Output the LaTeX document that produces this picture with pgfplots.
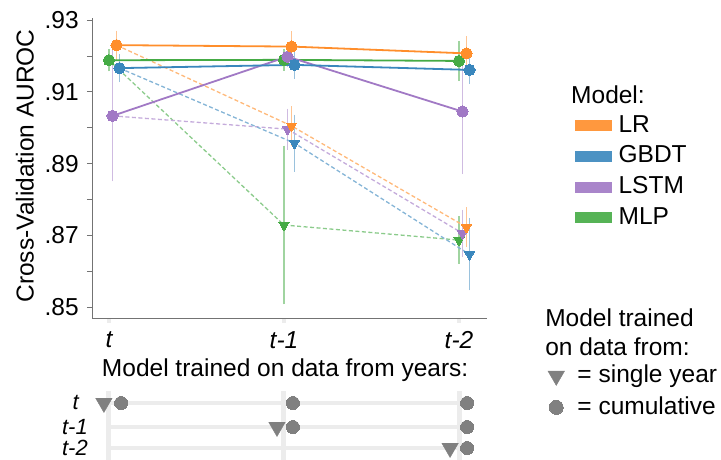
\documentclass[border=0pt]{standalone}
\usepackage{fontspec}
\setmainfont{Liberation Sans}
\usepackage{pgfplots}
\pgfplotsset{compat=1.18}
\definecolor{cO}{HTML}{FF7F0E}
\definecolor{cB}{HTML}{1F77B4}
\definecolor{cP}{HTML}{9467BD}
\definecolor{cG}{HTML}{2CA02C}
\definecolor{mk}{HTML}{808080}
\definecolor{gl}{HTML}{ECECEC}
\pgfplotsset{
  errs/.style={forget plot, draw=none, mark=none,
    error bars/.cd, y dir=both, y explicit,
    error bar style={draw=#1!45!white, line width=1.3pt, solid},
    error mark options={draw=#1!45!white, line width=1.3pt, mark size=2.2pt, solid}},
  single/.style={forget plot, draw=#1!55!white, line width=1.3pt, dash pattern=on 4pt off 2.5pt,
    mark=triangle*, mark indices={2,3}, mark size=5.8pt,
    mark options={solid, rotate=180, fill=#1!88!white, draw=#1!88!white, line width=0pt}},
  cumul/.style={forget plot, draw=#1!88!white, line width=1.8pt,
    mark=*, mark size=5.6pt, mark options={solid, fill=#1!88!white, draw=#1!88!white, line width=0pt}},
  gmark/.style={color=mk, mark options={fill=mk, draw=mk, line width=0pt}},
}
\begin{document}
\fontsize{24.5}{29}\selectfont
\begin{tikzpicture}
\useasboundingbox (0,0) rectangle (721pt,460pt);
\begin{axis}[
  at={(92pt,142pt)}, anchor=south west, scale only axis,
  width=395pt, height=300pt,
  xmin=-0.0971, xmax=2.16, ymin=0.847, ymax=0.93056,
  axis x line*=bottom, axis y line*=left,
  axis line style={draw=black!55, line width=0.9pt, -},
  xtick={0,1,2}, xticklabels={t,t-1,t-2},
  xticklabel style={font=\itshape},
  ytick={0.85,0.86,0.87,0.88,0.89,0.90,0.91,0.92,0.93},
  yticklabels={.85,,.87,,.89,,.91,,.93},
  tick align=outside, major tick length=5pt,
  xtick style={draw=gl, line width=4pt},
  ytick style={draw=black!55, line width=0.8pt},
  xlabel={Model trained on data from years:},
  ylabel={Cross-Validation AUROC},
  xlabel style={at={(axis description cs:0.489,-0.173)}, anchor=center},
  ylabel style={at={(axis description cs:-0.17,0.507)}, anchor=center},
  clip=false,
  legend style={draw=none, fill=none, at={(axis description cs:1.2228,0.68)}, anchor=north west,
    inner sep=0pt, row sep=8pt, column sep=6pt, nodes={inner sep=1pt}},
  legend cell align=left,
]
\addlegendimage{legend image code/.code={\fill[cO!80!white] (0pt,-5pt) rectangle (36pt,5pt);}}
\addlegendentry{LR}
\addlegendimage{legend image code/.code={\fill[cB!80!white] (0pt,-5pt) rectangle (36pt,5pt);}}
\addlegendentry{GBDT}
\addlegendimage{legend image code/.code={\fill[cP!80!white] (0pt,-5pt) rectangle (36pt,5pt);}}
\addlegendentry{LSTM}
\addlegendimage{legend image code/.code={\fill[cG!80!white] (0pt,-5pt) rectangle (36pt,5pt);}}
\addlegendentry{MLP}

% error bars: cumulative
\addplot[errs=cG] coordinates {(0,0.9188) +- (0,0.0025) (1,0.9189) +- (0,0.0024) (2,0.9186) +- (0,0.0050)};
\addplot[errs=cP] coordinates {(0.02,0.9033) +- (0,0.0176) (1.02,0.9198) +- (0,0.0024) (2.02,0.9045) +- (0,0.0168)};
\addplot[errs=cO] coordinates {(0.043,0.9230) +- (0,0.0034) (1.043,0.9226) +- (0,0.0037) (2.043,0.9207) +- (0,0.0042)};
\addplot[errs=cB] coordinates {(0.06,0.9166) +- (0,0.0033) (1.06,0.9175) +- (0,0.0033) (2.06,0.9161) +- (0,0.0033)};
% error bars: single year
\addplot[errs=cG] coordinates {(1,0.8729) +- (0,0.0215) (2,0.8687) +- (0,0.0060)};
\addplot[errs=cP] coordinates {(1.02,0.8996) +- (0,0.0051) (2.02,0.8706) +- (0,0.0060)};
\addplot[errs=cO] coordinates {(1.043,0.9005) +- (0,0.0049) (2.043,0.8723) +- (0,0.0049)};
\addplot[errs=cB] coordinates {(1.06,0.8957) +- (0,0.0073) (2.06,0.8647) +- (0,0.0094)};

% single year (dashed, triangles)
\addplot[single=cG] coordinates {(0,0.9188) (1,0.8729) (2,0.8687)};
\addplot[single=cP] coordinates {(0.02,0.9033) (1.02,0.8996) (2.02,0.8706)};
\addplot[single=cO] coordinates {(0.043,0.9230) (1.043,0.9005) (2.043,0.8723)};
\addplot[single=cB] coordinates {(0.06,0.9166) (1.06,0.8957) (2.06,0.8647)};

% cumulative (solid, circles)
\addplot[cumul=cG] coordinates {(0,0.9188) (1,0.9189) (2,0.9186)};
\addplot[cumul=cP] coordinates {(0.02,0.9033) (1.02,0.9198) (2.02,0.9045)};
\addplot[cumul=cO] coordinates {(0.043,0.9230) (1.043,0.9226) (2.043,0.9207)};
\addplot[cumul=cB] coordinates {(0.06,0.9166) (1.06,0.9175) (2.06,0.9161)};

\node[anchor=west, inner sep=0pt] at (axis description cs:1.2127,0.743) {Model:};
\node[anchor=west, inner sep=0pt] at (axis description cs:1.147,0.0) {Model trained};
\node[anchor=west, inner sep=0pt] at (axis description cs:1.147,-0.0967) {on data from:};
\end{axis}

\begin{axis}[
  at={(92pt,0pt)}, anchor=south west, scale only axis,
  width=395pt, height=70pt,
  xmin=-0.0971, xmax=2.16, ymin=0, ymax=70,
  axis line style={draw=none},
  xtick=\empty,
  ytick={12,33,57}, yticklabels={t-2,t-1,{t\rule{9pt}{0pt}}},
  yticklabel style={font=\fontsize{22}{24}\selectfont\itshape, inner sep=4pt},
  major tick length=0pt, ytick style={draw=none},
  clip=false,
  legend style={draw=none, fill=none, at={(axis description cs:1.154,1.371)}, anchor=north west,
    inner sep=0pt, row sep=8pt, column sep=12pt, nodes={inner sep=1pt}},
  legend cell align=left,
]
\addlegendimage{only marks, mark=triangle*, mark size=9.5pt, gmark, mark options={rotate=180}}
\addlegendentry{= single year}
\addlegendimage{only marks, mark=*, mark size=7pt, gmark}
\addlegendentry{= cumulative}
\addplot[forget plot, draw=gl, line width=5pt] coordinates {(0,0) (0,69)};
\addplot[forget plot, draw=gl, line width=5pt] coordinates {(1,0) (1,69)};
\addplot[forget plot, draw=gl, line width=5pt] coordinates {(2,0) (2,69)};
\addplot[forget plot, draw=gl, line width=4pt] coordinates {(0,57) (2,57)};
\addplot[forget plot, draw=gl, line width=4pt] coordinates {(0,33) (2,33)};
\addplot[forget plot, draw=gl, line width=4pt] coordinates {(0,12) (2,12)};
\addplot[forget plot, only marks, mark=triangle*, mark size=9.5pt, gmark, mark options={rotate=180}]
  coordinates {(-0.029,57) (0.96,33) (1.949,12)};
\addplot[forget plot, only marks, mark=*, mark size=6.5pt, gmark]
  coordinates {(0.069,57) (1.051,57) (2.046,57) (1.051,33) (2.046,33) (2.046,12)};
\end{axis}
\end{tikzpicture}
\end{document}
